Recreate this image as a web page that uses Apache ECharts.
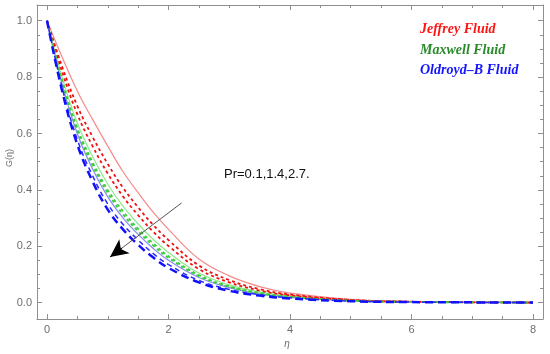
<!DOCTYPE html>
<html>
<head>
<meta charset="utf-8">
<script src="https://cdn.jsdelivr.net/npm/echarts@6/dist/echarts.min.js"></script>
<style>html,body{margin:0;padding:0;background:#fff}#c{width:550px;height:354px}</style>
</head>
<body>
<div id="c"></div>
<script>
// eta grid
const eta = [0, 0.25, 0.5, 0.75, 1, 1.25, 1.5, 1.75, 2, 2.5, 3, 3.5, 4, 5, 6, 7, 8];
// Jeffrey fluid
const jeffreyPr01 = [1, 0.87, 0.75, 0.65, 0.555, 0.465, 0.39, 0.32, 0.26, 0.155, 0.095, 0.057, 0.034, 0.012, 0.004, 0.0015, 0.0005];
const jeffreyPr14 = [1, 0.836, 0.697, 0.588, 0.492, 0.408, 0.338, 0.275, 0.222, 0.132, 0.080, 0.048, 0.029, 0.010, 0.0034, 0.0014, 0.0004];
const jeffreyPr27 = [1, 0.818, 0.668, 0.555, 0.458, 0.377, 0.310, 0.251, 0.201, 0.119, 0.072, 0.043, 0.026, 0.009, 0.0031, 0.0013, 0.0004];
// Maxwell fluid
const maxwellPr01 = [1, 0.798, 0.636, 0.518, 0.420, 0.342, 0.279, 0.224, 0.178, 0.105, 0.063, 0.038, 0.023, 0.008, 0.0028, 0.0012, 0.0004];
const maxwellPr14 = [1, 0.787, 0.619, 0.498, 0.400, 0.324, 0.262, 0.210, 0.165, 0.098, 0.058, 0.035, 0.021, 0.007, 0.0026, 0.0012, 0.0004];
const maxwellPr27 = [1, 0.781, 0.609, 0.487, 0.389, 0.313, 0.253, 0.202, 0.159, 0.094, 0.056, 0.033, 0.020, 0.007, 0.0025, 0.0011, 0.0004];
// Oldroyd-B fluid
const oldroydPr01 = [1, 0.774, 0.598, 0.474, 0.375, 0.301, 0.242, 0.192, 0.150, 0.089, 0.053, 0.031, 0.019, 0.0064, 0.0024, 0.0011, 0.0003];
const oldroydPr14 = [1, 0.761, 0.577, 0.450, 0.350, 0.278, 0.222, 0.174, 0.135, 0.079, 0.047, 0.028, 0.017, 0.0056, 0.0022, 0.001, 0.0003];
const oldroydPr27 = [1, 0.75, 0.56, 0.43, 0.33, 0.26, 0.205, 0.16, 0.123, 0.072, 0.042, 0.025, 0.015, 0.005, 0.002, 0.001, 0.0003];

const xMajorTicks = [0, 2, 4, 6, 8];
const xMinorTicks = [0.5, 1, 1.5, 2.5, 3, 3.5, 4.5, 5, 5.5, 6.5, 7, 7.5];
const yMajorTicks = [0, 0.2, 0.4, 0.6, 0.8, 1.0];
const yMinorTicks = [0.05, 0.1, 0.15, 0.25, 0.3, 0.35, 0.45, 0.5, 0.55, 0.65, 0.7, 0.75, 0.85, 0.9, 0.95];
const legendNames = ['Jeffrey Fluid', 'Maxwell Fluid', 'Oldroyd\u2013B Fluid'];
const annotationText = 'Pr=0.1,1.4,2.7.';
const arrowFrom = [2.217, 0.354];
const arrowTo = [1.037, 0.162];

const frameColor = '#8f8f8f';
const labelColor = '#6e6e6e';
const font = 'Liberation Sans';

function pairs(ys) { return eta.map((x, i) => [x, ys[i]]); }

function xAxisDef(pos, ticks, len, showLine, showLabel) {
  return {
    type: 'value', position: pos, min: -0.165, max: 8.165,
    axisLine: { show: showLine, onZero: false, lineStyle: { color: frameColor, width: 1 } },
    axisTick: { show: true, inside: true, length: len, customValues: ticks, lineStyle: { color: frameColor, width: 1 } },
    axisLabel: { show: showLabel, customValues: ticks, color: labelColor, fontSize: 11, fontFamily: font, margin: 5 },
    splitLine: { show: false }
  };
}
function yAxisDef(pos, ticks, len, showLine, showLabel) {
  return {
    type: 'value', position: pos, min: -0.058, max: 1.0557,
    axisLine: { show: showLine, onZero: false, lineStyle: { color: frameColor, width: 1 } },
    axisTick: { show: true, inside: true, length: len, customValues: ticks, lineStyle: { color: frameColor, width: 1 } },
    axisLabel: { show: showLabel, customValues: ticks, color: labelColor, fontSize: 11, fontFamily: font, margin: 5,
                 formatter: v => v.toFixed(1) },
    splitLine: { show: false }
  };
}

function line(data, color, width, type, z) {
  return {
    type: 'line', data: pairs(data), xAxisIndex: 0, yAxisIndex: 0,
    showSymbol: false, smooth: 0.4, z: z,
    lineStyle: { color: color, width: width, type: type }, silent: true, animation: false
  };
}

const series = [
  line(jeffreyPr01, '#f58a8a', 1.2, 'solid', 2),
  line(jeffreyPr14, '#f01010', 1.8, [3, 3], 3),
  line(jeffreyPr27, '#f01010', 1.8, [3, 3], 3),
  line(maxwellPr01, '#8fe88f', 1.2, 'solid', 2),
  line(maxwellPr14, '#3ccc3c', 1.8, [3, 3], 3),
  line(maxwellPr27, '#3ccc3c', 1.8, [3, 3], 3),
  line(oldroydPr01, '#8a8af5', 1.2, 'solid', 2),
  line(oldroydPr14, '#2a2aff', 1.5, [5, 4], 3),
  line(oldroydPr27, '#1010ff', 2.5, [8, 5], 4)
];
// arrow annotation in data coordinates
series.push({
  type: 'line', data: [], xAxisIndex: 0, yAxisIndex: 0, silent: true, animation: false,
  markLine: {
    silent: true, animation: false, label: { show: false },
    data: [
      [{ coord: arrowFrom, symbol: 'none', lineStyle: { color: '#555', width: 1, type: 'solid' } },
       { coord: [arrowTo[0] + 0.15, arrowTo[1] + 0.024], symbol: 'none' }],
      [{ coord: [arrowTo[0] + 0.2, arrowTo[1] + 0.032], symbol: 'none', lineStyle: { color: '#000', width: 1, type: 'solid' } },
       { coord: arrowTo, symbol: 'arrow', symbolSize: [13, 18] }]
    ]
  }
});

const chart = echarts.init(document.getElementById('c'), null, { renderer: 'canvas' });
chart.setOption({
  animation: false,
  backgroundColor: '#fff',
  grid: { left: 37, right: 7, top: 5, bottom: 35, containLabel: false },
  xAxis: [
    xAxisDef('bottom', xMajorTicks, 5, true, true),
    xAxisDef('bottom', xMinorTicks, 3, false, false),
    xAxisDef('top', xMajorTicks, 5, true, false),
    xAxisDef('top', xMinorTicks, 3, false, false)
  ],
  yAxis: [
    yAxisDef('left', yMajorTicks, 5, true, true),
    yAxisDef('left', yMinorTicks, 3, false, false),
    yAxisDef('right', yMajorTicks, 5, true, false),
    yAxisDef('right', yMinorTicks, 3, false, false)
  ],
  series: series,
  graphic: [
    { type: 'text', x: 10, y: 158, rotation: Math.PI / 2,
      style: { text: 'G(\u03B7)', fill: labelColor, font: '9px "Liberation Sans"', textAlign: 'center', textVerticalAlign: 'middle' } },
    { type: 'text', x: 287, y: 344,
      style: { text: '\u03B7', fill: labelColor, font: 'italic 10px "Liberation Sans"', textAlign: 'center', textVerticalAlign: 'middle' } },
    { type: 'text', x: 420, y: 29,
      style: { text: legendNames[0], fill: '#ff1414', font: 'italic bold 14px "Liberation Serif"', textAlign: 'left', textVerticalAlign: 'middle' } },
    { type: 'text', x: 420, y: 50,
      style: { text: legendNames[1], fill: '#2a8a2a', font: 'italic bold 14px "Liberation Serif"', textAlign: 'left', textVerticalAlign: 'middle' } },
    { type: 'text', x: 420, y: 70,
      style: { text: legendNames[2], fill: '#1414ff', font: 'italic bold 14px "Liberation Serif"', textAlign: 'left', textVerticalAlign: 'middle' } },
    { type: 'text', x: 224, y: 174,
      style: { text: annotationText, fill: '#111', font: '13px "Liberation Sans"', textAlign: 'left', textVerticalAlign: 'middle' } }
  ]
});
</script>
</body>
</html>
